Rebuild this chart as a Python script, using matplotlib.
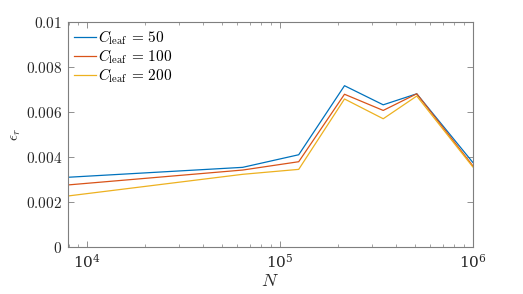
#!/usr/bin/env python

""" Relative error vs problem size for several leaf sizes. """

import matplotlib
matplotlib.use("Agg")
import matplotlib.pyplot as plt
from matplotlib.ticker import FixedLocator, FuncFormatter, LogLocator, NullFormatter

plt.rcParams["mathtext.fontset"] = "cm"
plt.rcParams["font.family"] = "serif"
plt.rcParams["font.serif"] = ["DejaVu Serif"]

n_points = [8000, 64000, 125000, 216000, 343000, 512000, 1000000]
err_50 = [3.10e-3, 3.54e-3, 4.10e-3, 7.17e-3, 6.32e-3, 6.81e-3, 3.76e-3]
err_100 = [2.76e-3, 3.42e-3, 3.79e-3, 6.79e-3, 6.07e-3, 6.81e-3, 3.61e-3]
err_200 = [2.27e-3, 3.23e-3, 3.45e-3, 6.58e-3, 5.70e-3, 6.71e-3, 3.56e-3]
leaf_sizes = [50, 100, 200]
y_ticks = [0, 0.002, 0.004, 0.006, 0.008, 0.01]

colors = ["#0072BD", "#D95319", "#EDB120"]
axis_gray = "#7f7f7f"


def run():
    fig = plt.figure(figsize=(5.23, 2.94), dpi=100)
    ax = fig.add_axes([0.130, 0.160, 0.774, 0.765])

    for errs, leaf, color in zip([err_50, err_100, err_200], leaf_sizes, colors):
        ax.plot(n_points, errs, color=color, lw=0.9,
                label=r"$C_{\rm leaf} \,=\, %d$" % leaf)

    ax.set_xscale("log")
    ax.set_xlim(7943, 1e6)
    ax.set_ylim(0, 0.01)
    ax.yaxis.set_major_locator(FixedLocator(y_ticks))
    ax.yaxis.set_major_formatter(FuncFormatter(lambda v, p: "$%g$" % v))
    ax.xaxis.set_major_locator(LogLocator(base=10))
    ax.xaxis.set_minor_locator(LogLocator(base=10, subs=range(2, 10)))
    ax.xaxis.set_minor_formatter(NullFormatter())

    for spine in ax.spines.values():
        spine.set_color(axis_gray)
        spine.set_linewidth(0.8)
    ax.tick_params(which="both", direction="in", top=True, right=True,
                   color=axis_gray, labelsize=11, labelcolor="#262626")
    ax.tick_params(which="major", length=4, width=0.6, pad=4)
    ax.tick_params(which="minor", length=2.2, width=0.5)

    ax.set_xlabel(r"$N$", fontsize=13, labelpad=1, color="#262626")
    ax.set_ylabel(r"$\epsilon_r$", fontsize=11, labelpad=2, color="#262626")

    ax.legend(loc="upper left", frameon=False, fontsize=11,
              handlelength=1.45, handletextpad=0.1, labelspacing=0.02,
              borderaxespad=0.2, borderpad=0.2)

    fig.savefig("out.png", dpi=100)


if __name__ == "__main__":
    run()
